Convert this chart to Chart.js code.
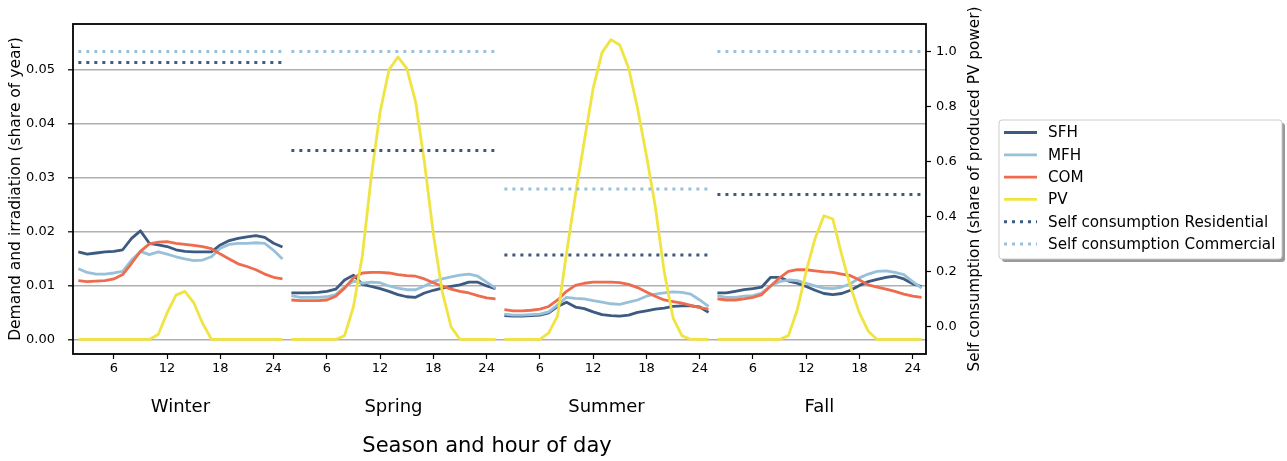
<!DOCTYPE html>
<html>
<head>
<meta charset="utf-8">
<script src="https://cdn.jsdelivr.net/npm/chart.js@4.4.0/dist/chart.umd.min.js"></script>
<style>
  html, body { margin: 0; padding: 0; background: #fff; }
  #wrap { width: 1287px; height: 461px; }
</style>
</head>
<body>
<div id="wrap"><canvas id="chartCanvas" width="1287" height="461"></canvas></div>
<script>
"use strict";

const seasons = ["Winter", "Spring", "Summer", "Fall"];
const hourTicks = [6, 12, 18, 24];

// share of year, 24 steps per season in the order Winter, Spring, Summer, Fall
const sfh = [
  0.0162, 0.0158, 0.0160, 0.0162, 0.0163, 0.0166, 0.0187, 0.0201, 0.0178, 0.0175, 0.0172, 0.0166,
  0.0163, 0.0162, 0.0162, 0.0162, 0.0175, 0.0183, 0.0187, 0.0190, 0.0192, 0.0189, 0.0178, 0.0171,
  0.0086, 0.0086, 0.0086, 0.0087, 0.0089, 0.0093, 0.0110, 0.0119, 0.0102, 0.0098, 0.0094, 0.0089,
  0.0083, 0.0079, 0.0078, 0.0086, 0.0091, 0.0095, 0.0098, 0.0101, 0.0106, 0.0106, 0.0099, 0.0094,
  0.0044, 0.0043, 0.0043, 0.0044, 0.0045, 0.0049, 0.0061, 0.0069, 0.0060, 0.0057, 0.0051, 0.0046,
  0.0044, 0.0043, 0.0045, 0.0050, 0.0053, 0.0056, 0.0058, 0.0061, 0.0062, 0.0062, 0.0060, 0.0050,
  0.0086, 0.0086, 0.0089, 0.0092, 0.0094, 0.0097, 0.0115, 0.0115, 0.0108, 0.0104, 0.0098, 0.0091,
  0.0085, 0.0083, 0.0085, 0.0091, 0.0100, 0.0107, 0.0111, 0.0115, 0.0117, 0.0112, 0.0103, 0.0098,
];

const mfh = [
  0.0131, 0.0124, 0.0121, 0.0121, 0.0123, 0.0126, 0.0147, 0.0163, 0.0157, 0.0162, 0.0158, 0.0153,
  0.0149, 0.0146, 0.0147, 0.0153, 0.0169, 0.0176, 0.0178, 0.0178, 0.0179, 0.0178, 0.0165, 0.0149,
  0.0081, 0.0078, 0.0078, 0.0078, 0.0079, 0.0083, 0.0097, 0.0108, 0.0104, 0.0106, 0.0105, 0.0099,
  0.0095, 0.0092, 0.0092, 0.0099, 0.0107, 0.0112, 0.0116, 0.0119, 0.0121, 0.0117, 0.0106, 0.0095,
  0.0047, 0.0045, 0.0045, 0.0046, 0.0047, 0.0051, 0.0064, 0.0078, 0.0076, 0.0075, 0.0072, 0.0069,
  0.0066, 0.0065, 0.0069, 0.0073, 0.0080, 0.0084, 0.0086, 0.0088, 0.0087, 0.0084, 0.0073, 0.0061,
  0.0081, 0.0078, 0.0078, 0.0080, 0.0081, 0.0086, 0.0099, 0.0107, 0.0110, 0.0109, 0.0104, 0.0099,
  0.0095, 0.0094, 0.0097, 0.0103, 0.0114, 0.0121, 0.0126, 0.0127, 0.0124, 0.0120, 0.0107, 0.0095,
];

const com = [
  0.0109, 0.0107, 0.0108, 0.0109, 0.0112, 0.0120, 0.0141, 0.0163, 0.0177, 0.0180, 0.0181, 0.0178,
  0.0176, 0.0174, 0.0172, 0.0168, 0.0158, 0.0149, 0.0140, 0.0135, 0.0129, 0.0121, 0.0115, 0.0112,
  0.0073, 0.0072, 0.0072, 0.0072, 0.0073, 0.0080, 0.0095, 0.0114, 0.0123, 0.0124, 0.0124, 0.0123,
  0.0120, 0.0118, 0.0117, 0.0112, 0.0105, 0.0099, 0.0093, 0.0089, 0.0086, 0.0081, 0.0077, 0.0075,
  0.0055, 0.0053, 0.0053, 0.0054, 0.0056, 0.0061, 0.0073, 0.0089, 0.0100, 0.0104, 0.0106, 0.0106,
  0.0106, 0.0105, 0.0102, 0.0096, 0.0088, 0.0080, 0.0073, 0.0070, 0.0067, 0.0063, 0.0059, 0.0056,
  0.0075, 0.0073, 0.0073, 0.0075, 0.0078, 0.0083, 0.0099, 0.0114, 0.0126, 0.0129, 0.0129, 0.0127,
  0.0125, 0.0124, 0.0121, 0.0118, 0.0110, 0.0101, 0.0097, 0.0093, 0.0089, 0.0084, 0.0080, 0.0078,
];

const pv = [
  0, 0, 0, 0, 0, 0, 0, 0, 0, 0.0009, 0.0049, 0.0082,
  0.0089, 0.0068, 0.0030, 0, 0, 0, 0, 0, 0, 0, 0, 0,
  0, 0, 0, 0, 0, 0, 0.0007, 0.0061, 0.0155, 0.0301, 0.0421, 0.0499,
  0.0523, 0.0502, 0.0440, 0.0327, 0.0195, 0.0088, 0.0023, 0, 0, 0, 0, 0,
  0, 0, 0, 0, 0, 0.0012, 0.0044, 0.0160, 0.0267, 0.0367, 0.0465, 0.0531,
  0.0555, 0.0545, 0.0502, 0.0428, 0.0341, 0.0246, 0.0126, 0.0040, 0.0007, 0, 0, 0,
  0, 0, 0, 0, 0, 0, 0, 0, 0.0007, 0.0055, 0.0126, 0.0187,
  0.0229, 0.0223, 0.0157, 0.0097, 0.0049, 0.0015, 0, 0, 0, 0, 0, 0,
];

// share of produced PV power, one value per season
const selfResidential = [0.96, 0.64, 0.26, 0.48];
const selfCommercial = [1.0, 1.0, 0.50, 1.0];

const FONT = "DejaVu Sans";
const STEPS = 24;
// the reference puts its "6" tick on the fifth plotted step of each season
const TICK_SHIFT = 2;

const colors = {
  sfh: "#3d5a80",
  mfh: "#98c1d9",
  com: "#ee6c4d",
  pv: "#f0e442",
  grid: "#b0b0b0",
};

function seasonPoints(values) {
  const points = [];
  seasons.forEach((_, s) => {
    for (let k = 0; k < STEPS; k++) {
      points.push({ x: s * STEPS + k, y: values[s * STEPS + k] });
    }
    points.push({ x: s * STEPS + STEPS - 0.5, y: null });
  });
  return points;
}

function flatPoints(values) {
  const points = [];
  values.forEach((v, s) => {
    points.push({ x: s * STEPS, y: v });
    points.push({ x: s * STEPS + STEPS - 1, y: v });
    points.push({ x: s * STEPS + STEPS - 0.5, y: null });
  });
  return points;
}

function solid(label, values, color, order) {
  return {
    label,
    data: seasonPoints(values),
    borderColor: color,
    borderWidth: 2.8,
    borderJoinStyle: "round",
    borderCapStyle: "butt",
    pointRadius: 0,
    tension: 0,
    yAxisID: "y",
    order,
  };
}

function dotted(label, values, color, order) {
  return {
    label,
    data: flatPoints(values),
    borderColor: color,
    borderWidth: 3,
    borderDash: [3, 5],
    borderCapStyle: "butt",
    pointRadius: 0,
    tension: 0,
    yAxisID: "y2",
    order,
  };
}

const legendItems = [
  { label: "SFH", color: colors.sfh, dash: [] },
  { label: "MFH", color: colors.mfh, dash: [] },
  { label: "COM", color: colors.com, dash: [] },
  { label: "PV", color: colors.pv, dash: [] },
  { label: "Self consumption Residential", color: colors.sfh, dash: [3, 5] },
  { label: "Self consumption Commercial", color: colors.mfh, dash: [3, 5] },
];

function roundRect(ctx, x, y, w, h, r) {
  ctx.beginPath();
  ctx.moveTo(x + r, y);
  ctx.lineTo(x + w - r, y);
  ctx.quadraticCurveTo(x + w, y, x + w, y + r);
  ctx.lineTo(x + w, y + h - r);
  ctx.quadraticCurveTo(x + w, y + h, x + w - r, y + h);
  ctx.lineTo(x + r, y + h);
  ctx.quadraticCurveTo(x, y + h, x, y + h - r);
  ctx.lineTo(x, y + r);
  ctx.quadraticCurveTo(x, y, x + r, y);
  ctx.closePath();
}

const framePlugin = {
  id: "frame",
  afterDatasetsDraw(chart) {
    const { ctx, chartArea: a } = chart;
    ctx.save();
    ctx.strokeStyle = "#000";
    ctx.lineWidth = 1.8;
    ctx.strokeRect(a.left, a.top, a.right - a.left, a.bottom - a.top);
    ctx.restore();
  },
};

const titlesPlugin = {
  id: "titles",
  afterDraw(chart) {
    const { ctx } = chart;
    const y2 = chart.scales.y2;
    const xs = chart.scales.xs;
    ctx.save();
    ctx.fillStyle = "#000";
    ctx.textAlign = "center";
    ctx.textBaseline = "middle";
    ctx.font = "21px " + FONT;
    ctx.fillText("Season and hour of day", 487, xs.bottom - 14);
    ctx.translate(y2.right - 15, (y2.top + y2.bottom) / 2);
    ctx.rotate(-Math.PI / 2);
    ctx.font = "15.3px " + FONT;
    ctx.fillText("Self consumption (share of produced PV power)", 0, 0);
    ctx.restore();
  },
};

const legendPlugin = {
  id: "boxLegend",
  afterDraw(chart) {
    const ctx = chart.ctx;
    const x = 999, y = 120, w = 283, h = 139;
    ctx.save();
    ctx.fillStyle = "rgba(0,0,0,0.4)";
    roundRect(ctx, x + 3, y + 3, w, h, 3);
    ctx.fill();
    ctx.fillStyle = "#fff";
    roundRect(ctx, x, y, w, h, 3);
    ctx.fill();
    ctx.strokeStyle = "#cccccc";
    ctx.lineWidth = 1;
    ctx.stroke();
    ctx.font = "15.2px " + FONT;
    ctx.textBaseline = "middle";
    ctx.textAlign = "left";
    legendItems.forEach((item, i) => {
      const ry = 132.5 + i * 22.3;
      ctx.beginPath();
      ctx.setLineDash(item.dash);
      ctx.strokeStyle = item.color;
      ctx.lineWidth = item.dash.length ? 3 : 2.8;
      ctx.moveTo(1004, ry);
      ctx.lineTo(1037, ry);
      ctx.stroke();
      ctx.setLineDash([]);
      ctx.fillStyle = "#000";
      ctx.fillText(item.label, 1048, ry + 1);
    });
    ctx.restore();
  },
};

const ctx = document.getElementById("chartCanvas").getContext("2d");

new Chart(ctx, {
  type: "line",
  data: {
    datasets: [
      dotted("Self consumption Commercial", selfCommercial, colors.mfh, 0),
      dotted("Self consumption Residential", selfResidential, colors.sfh, 1),
      solid("PV", pv, colors.pv, 2),
      solid("COM", com, colors.com, 3),
      solid("MFH", mfh, colors.mfh, 4),
      solid("SFH", sfh, colors.sfh, 5),
    ],
  },
  options: {
    responsive: false,
    animation: false,
    devicePixelRatio: 1,
    layout: { padding: { left: 0, right: 297, top: 24, bottom: 0 } },
    plugins: { legend: { display: false }, tooltip: { enabled: false } },
    scales: {
      x: {
        type: "linear",
        position: "bottom",
        min: -0.6,
        max: 95.5,
        afterBuildTicks: (axis) => {
          const ticks = [];
          seasons.forEach((_, s) => {
            hourTicks.forEach((h) => ticks.push({ value: s * STEPS + h - TICK_SHIFT }));
          });
          axis.ticks = ticks;
        },
        afterFit: (axis) => { axis.height = 24; },
        ticks: {
          autoSkip: false,
          maxRotation: 0,
          padding: 2,
          color: "#000",
          font: { family: FONT, size: 13 },
          callback: (value, index) => String(hourTicks[index % hourTicks.length]),
        },
        grid: { drawOnChartArea: false, tickColor: "#000", tickLength: 5, tickWidth: 1.2 },
        border: { display: false },
      },
      xs: {
        type: "linear",
        position: "bottom",
        min: -0.6,
        max: 95.5,
        afterBuildTicks: (axis) => {
          axis.ticks = seasons.map((_, s) => ({ value: s * STEPS + (STEPS - 1) / 2 }));
        },
        afterFit: (axis) => { axis.height = 83; },
        ticks: {
          autoSkip: false,
          maxRotation: 0,
          padding: 19,
          color: "#000",
          font: { family: FONT, size: 18 },
          callback: (value, index) => seasons[index],
        },
        grid: { display: false, drawTicks: false },
        border: { display: false },
      },
      y: {
        type: "linear",
        position: "left",
        min: -0.0027,
        max: 0.0584,
        afterBuildTicks: (axis) => {
          axis.ticks = [0, 0.01, 0.02, 0.03, 0.04, 0.05].map((v) => ({ value: v }));
        },
        afterFit: (axis) => { axis.width = 73; },
        ticks: {
          padding: 13,
          color: "#000",
          font: { family: FONT, size: 13 },
          callback: (value) => value.toFixed(2),
        },
        title: {
          display: true,
          text: "Demand and irradiation (share of year)",
          color: "#000",
          font: { family: FONT, size: 15.5 },
          padding: { top: 7, bottom: 0 },
        },
        grid: { color: colors.grid, lineWidth: 1.6, tickColor: "#000", tickLength: 5, tickWidth: 1.2 },
        border: { display: false },
      },
      y2: {
        type: "linear",
        position: "right",
        min: -0.1,
        max: 1.1,
        afterBuildTicks: (axis) => {
          axis.ticks = [0, 0.2, 0.4, 0.6, 0.8, 1.0].map((v) => ({ value: v }));
        },
        afterFit: (axis) => { axis.width = 64; },
        ticks: {
          padding: 5,
          color: "#000",
          font: { family: FONT, size: 13 },
          callback: (value) => value.toFixed(1),
        },
        grid: { drawOnChartArea: false, tickColor: "#000", tickLength: 5, tickWidth: 1.2 },
        border: { display: false },
      },
    },
  },
  plugins: [framePlugin, titlesPlugin, legendPlugin],
});
</script>
</body>
</html>
